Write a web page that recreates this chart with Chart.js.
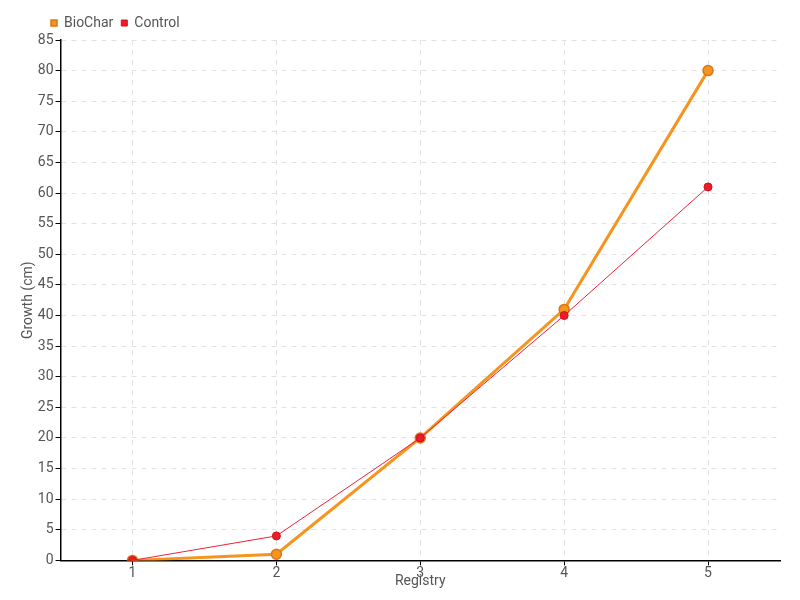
<!DOCTYPE html>
<html><head><meta charset="utf-8">
<script src="https://cdn.jsdelivr.net/npm/chart.js@4"></script>
<style>html,body{margin:0;padding:0;background:#fff}#wrap{width:800px;height:600px}</style>
</head><body><div id="wrap"><canvas id="c" width="800" height="600"></canvas></div>
<script>
const categories = ['1', '2', '3', '4', '5'];
const biocharValues = [0, 1, 20, 41, 80];
const controlValues = [0, 4, 20, 40, 61];
const yAxisTitle = 'Growth (cm)';
const xAxisTitle = 'Registry';

const FONT = "Roboto, sans-serif";
Chart.defaults.font.family = FONT;
Chart.defaults.color = '#555';

new Chart(document.getElementById('c'), {
  type: 'line',
  data: {
    labels: categories,
    datasets: [
      {
        label: 'BioChar', data: biocharValues,
        borderColor: '#f7941d', backgroundColor: '#f7941d',
        pointBackgroundColor: '#f7941d', pointBorderColor: '#d9781a',
        borderWidth: 3, pointRadius: 5, pointBorderWidth: 1.5,
        tension: 0, order: 1
      },
      {
        label: 'Control', data: controlValues,
        borderColor: '#f0203a', backgroundColor: '#ee1c25',
        pointBackgroundColor: '#ee1c25', pointBorderColor: '#d01020',
        borderWidth: 1, pointRadius: 4, pointBorderWidth: 1,
        tension: 0, order: 0
      }
    ]
  },
  options: {
    responsive: false, animation: false,
    layout: { padding: { left: 20, right: 20, top: 8, bottom: 10 } },
    plugins: {
      legend: {
        position: 'top', align: 'start',
        labels: {
          usePointStyle: true, pointStyle: 'rect', boxWidth: 6, boxHeight: 6,
          padding: 8, font: { size: 14 }, color: '#555',
          sort: (a, b) => a.datasetIndex - b.datasetIndex
        }
      },
      tooltip: { enabled: false }
    },
    scales: {
      x: {
        offset: true,
        grid: { color: '#e2e2e2', drawTicks: true, tickLength: 5, tickColor: '#000', tickBorderDash: [], offset: false },
        border: { color: '#000', width: 1.5, dash: [5, 5] },
        ticks: { font: { size: 14 }, color: '#555', padding: 0 },
        title: { display: true, text: xAxisTitle, font: { size: 14 }, color: '#555', padding: { top: -9, bottom: 0 } }
      },
      y: {
        min: 0, max: 85,
        grid: { color: '#e2e2e2', drawTicks: true, tickLength: 5, tickColor: '#000', tickBorderDash: [] },
        border: { color: '#000', width: 1.5, dash: [5, 5] },
        ticks: { stepSize: 5, font: { size: 14 }, color: '#555', padding: 2 },
        title: { display: true, text: yAxisTitle, font: { size: 14 }, color: '#555', padding: { top: 0, bottom: -1 } }
      }
    }
  },
  plugins: [{
    id: 'legendShift',
    beforeDraw(chart) {
      const lg = chart.legend;
      if (lg && !lg._shifted) { lg.left += 23; lg.right += 23; lg._shifted = true; }
    }
  }]
});
</script></body></html>
